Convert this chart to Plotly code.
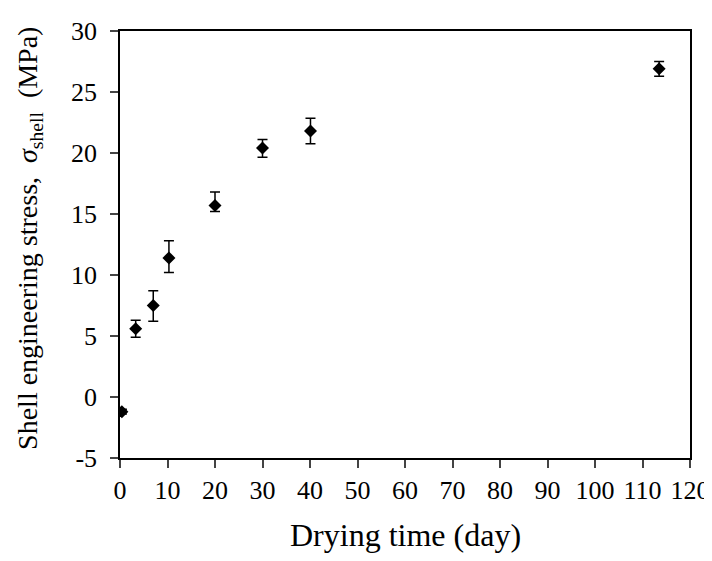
import plotly.graph_objects as go

# Drying time (day) and shell engineering stress (MPa)
days = [0.4, 3.3, 7.0, 10.3, 20.0, 30.0, 40.1, 113.5]
stress = [-1.2, 5.6, 7.5, 11.4, 15.7, 20.4, 21.8, 26.9]
err_plus = [0.2, 0.7, 1.2, 1.4, 1.1, 0.7, 1.05, 0.6]
err_minus = [0.2, 0.7, 1.3, 1.2, 0.5, 0.75, 1.05, 0.6]

x_ticks = list(range(0, 121, 10))
y_ticks = list(range(-5, 31, 5))
y_labels = [str(v) for v in y_ticks]  # plain hyphen for -5, as in the original

fig = go.Figure()
fig.add_trace(go.Scatter(
    x=days, y=stress, mode='markers',
    marker=dict(symbol='diamond', size=10, color='black'),
    error_y=dict(type='data', symmetric=False, array=err_plus, arrayminus=err_minus,
                 color='black', thickness=1.5, width=5),
    showlegend=False,
))

# page body has an 8px margin, so the figure is 8px smaller and shifted
font = 'Liberation Serif, Times New Roman, serif'
fig.update_layout(
    width=704, height=553,
    margin=dict(l=112, r=22, t=23, b=103),
    plot_bgcolor='white', paper_bgcolor='white',
    font=dict(family=font, size=26, color='black'),
)
fig.update_xaxes(
    range=[0, 120], tickvals=x_ticks, ticks='outside', ticklen=8, tickwidth=1.5,
    showline=True, linecolor='black', linewidth=1.5, mirror=True,
    showgrid=False, zeroline=False, automargin=False,
)
fig.update_yaxes(
    range=[-5, 30], tickvals=y_ticks, ticktext=y_labels, ticks='outside', ticklen=8,
    tickwidth=1.5, showline=True, linecolor='black', linewidth=1.5, mirror=True,
    showgrid=False, zeroline=False, automargin=False, ticklabelstandoff=8,
)

# axis titles
fig.add_annotation(text='Drying time (day)', xref='paper', yref='paper',
                   x=0.5, y=-0.18, xanchor='center', yanchor='middle',
                   showarrow=False, font=dict(size=32))
fig.add_annotation(text='Shell engineering stress,  <i>σ</i><sub>shell</sub>  (MPa)',
                   xref='paper', yref='paper', x=-0.16, y=0.515,
                   xanchor='center', yanchor='middle', textangle=-90,
                   showarrow=False, font=dict(size=28))

fig.write_html('out.html')
